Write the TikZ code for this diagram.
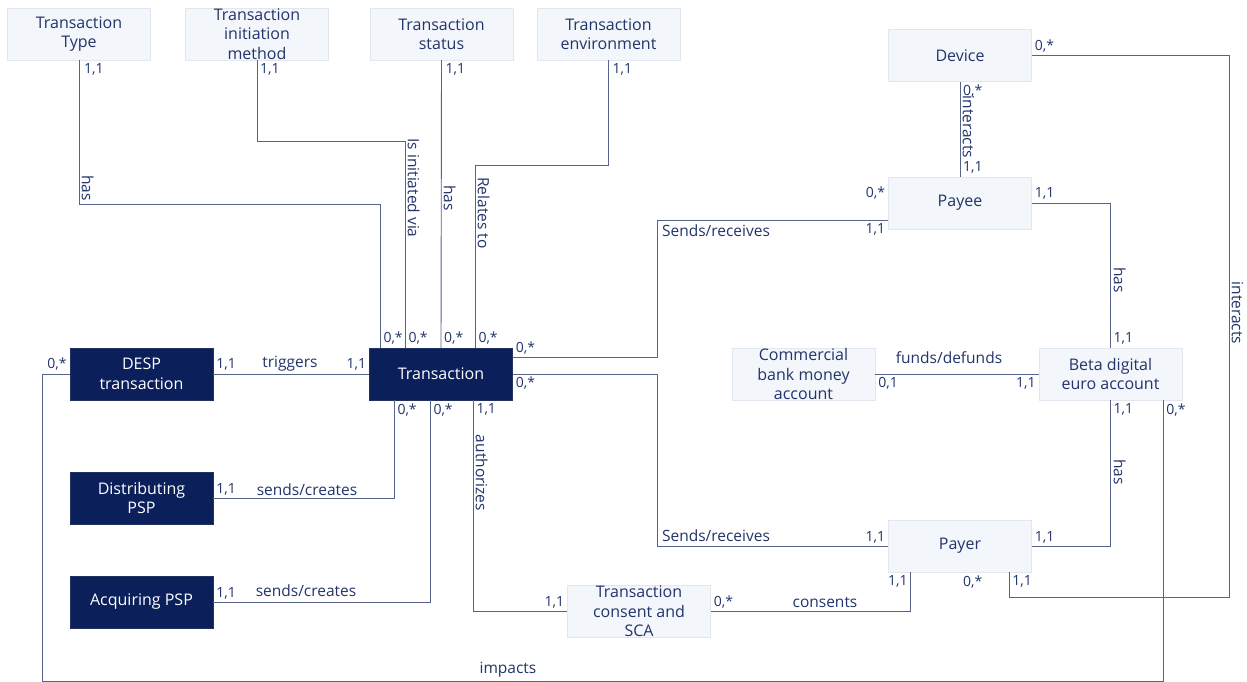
\documentclass[tikz,border=0pt]{standalone}
\usepackage{fontspec}
\setmainfont{Open Sans}
\definecolor{navy}{HTML}{0B1F5B}
\definecolor{pale}{HTML}{F3F6FB}
\definecolor{rim}{HTML}{E2E7EF}
\definecolor{ink}{HTML}{22346A}
\definecolor{wire}{HTML}{56648A}

\begin{document}
\begin{tikzpicture}[x=1pt,y=-1pt,
 entity/.style={draw=rim,fill=pale,text=ink,minimum width=143pt,minimum height=52pt,
   inner sep=0pt,align=center,font=\fontsize{16}{19.5}\selectfont},
 actor/.style={entity,draw=navy!80!gray,fill=navy,text=white},
 link/.style={draw=wire,line width=0.9pt},
 lab/.style={text=ink,inner sep=2.5pt,font=\fontsize{15.5}{18}\selectfont},
 card/.style={text=ink,inner sep=3pt,font=\fontsize{14}{16}\selectfont}]

\useasboundingbox (0,0) rectangle (1247,682);

% transaction attributes
\node[entity] (ttype) at (79,34) {Transaction\\Type};
\node[entity] (tinit) at (257,34) {Transaction\\initiation\\method};
\node[entity] (tstat) at (441.5,34) {Transaction\\status};
\node[entity] (tenv) at (608.5,34) {Transaction\\environment};

% dark boxes
\node[actor] (tr) at (441,374) {Transaction};
\node[actor] (desp) at (141.5,374) {DESP\\transaction};
\node[actor] (dpsp) at (141.5,498) {Distributing\\PSP};
\node[actor] (apsp) at (141.5,602) {Acquiring PSP};

% right hand side
\node[entity] (device) at (960,55.5) {Device};
\node[entity] (payee) at (960,203) {Payee};
\node[entity] (cbm) at (803.5,374) {Commercial\\bank money\\account};
\node[entity] (beta) at (1110.5,374) {Beta digital\\euro account};
\node[entity] (payer) at (960,546) {Payer};
\node[entity] (consent) at (639,611.5) {Transaction\\consent and\\SCA};

\draw 
[link] 
(ttype.south) -- ++(0,144) -| ([xshift=11pt]tr.north west);
\draw 
[link] 
(tinit.south) -- ++(0,81) -| ([xshift=36pt]tr.north west);
\draw 
[link] 
(tstat.south) -- (tr.north);
\draw 
[link] 
(tenv.south) -- ++(0,105) -| ([xshift=106pt]tr.north west);

\draw [link] (desp.east) -- (tr.west);
\draw [link] (dpsp.east) -| ([xshift=25pt]tr.south west);
\draw [link] (apsp.east) -| ([xshift=61pt]tr.south west);
\draw [link] ([xshift=104pt]tr.south west) |- (consent.west);

\draw [link] ([yshift=-10pt]tr.north east) -- ++(145,0) |- ([yshift=-17pt]payee.west);
\draw [link] (tr.east) -- ++(145,0) |- (payer.west);

\draw [link] (device.south) -- (payee.north);
\draw [link] (device.east) -- ++(197.5,0) -- ++(0,541.5) -| ([xshift=-22.5pt]payer.south east);
\draw [link] (payee.east) -| (beta.north);
\draw [link] (cbm.east) -- (beta.west);
\draw [link] (beta.south) |- (payer.east);
\draw [link] ([xshift=22.5pt]payer.south west) |- (consent.east);

\draw [link] (desp.west) -- ++(-27,0) -- ++(0,307) -| ([xshift=-19pt]beta.south east);

% relation names
\node[lab,rotate=-90,anchor=south] (l-type) at (79,188) {has};
\node[lab,rotate=-90,anchor=south] (l-init) at (405,188) {Is initiated via};
\node[lab,rotate=-90,anchor=south] (l-stat) at (441,198) {has};
\node[lab,rotate=-90,anchor=south] (l-env) at (475,213) {Relates to};
\node[lab,rotate=-90,anchor=south] (l-auth) at (473,473) {authorizes};
\node[lab,rotate=-90,anchor=south] (l-dev) at (960,127) {interacts};
\node[lab,rotate=-90,anchor=south] (l-payee) at (1111,280) {has};
\node[lab,rotate=-90,anchor=south] (l-payer) at (1111,472) {has};
\node[lab,rotate=-90,anchor=south] (l-loop) at (1229,313) {interacts};

\node[lab] (l-trig) at (290,364) {triggers};
\node[lab] (l-dist) at (307,490) {sends/creates};
\node[lab] (l-acq) at (306,591) {sends/creates};
\node[lab] (l-up) at (716,231) {Sends/receives};
\node[lab] (l-down) at (716,536) {Sends/receives};
\node[lab] (l-fund) at (949,358) {funds/defunds};
\node[lab] (l-cons) at (825,602) {consents};
\node[lab] (l-imp) at (508,670) {impacts};

% cardinalities
\node[card,anchor=north west] (c1) at ([xshift=2pt]ttype.south) {1,1};
\node[card,anchor=north west] (c2) at (tinit.south) {1,1};
\node[card,anchor=north west] (c3) at ([xshift=1pt]tstat.south) {1,1};
\node[card,anchor=north west] (c4) at ([xshift=1pt]tenv.south) {1,1};
\node[card,anchor=south west] (c5) at ([xshift=11pt]tr.north west) {0,*};
\node[card,anchor=south west] (c6) at ([xshift=36pt]tr.north west) {0,*};
\node[card,anchor=south west] (c7) at (tr.north) {0,*};
\node[card,anchor=south west] (c8) at ([xshift=106pt]tr.north west) {0,*};

\node[card,anchor=south east] (c9) at (desp.west) {0,*};
\node[card,anchor=south west] (c10) at (desp.east) {1,1};
\node[card,anchor=south east] (c11) at (tr.west) {1,1};
\node[card,anchor=south west] (c12) at (dpsp.east) {1,1};
\node[card,anchor=south west] (c13) at (apsp.east) {1,1};
\node[card,anchor=north west] (c14) at ([xshift=25pt]tr.south west) {0,*};
\node[card,anchor=north west] (c15) at ([xshift=61pt]tr.south west) {0,*};
\node[card,anchor=north west] (c16) at ([xshift=104pt]tr.south west) {1,1};
\node[card,anchor=south east] (c17) at (consent.west) {1,1};
\node[card,anchor=south west] (c18) at ([yshift=-10pt]tr.north east) {0,*};
\node[card,anchor=north west] (c19) at (tr.east) {0,*};

\node[card,anchor=south east] (c20) at (payee.west) {0,*};
\node[card,anchor=north east] (c21) at ([yshift=-17pt]payee.west) {1,1};
\node[card,anchor=south east] (c22) at (payer.west) {1,1};
\node[card,anchor=south west] (c23) at (device.east) {0,*};
\node[card,anchor=north west] (c24) at (device.south) {0,*};
\node[card,anchor=south west] (c25) at (payee.north) {1,1};
\node[card,anchor=south west] (c26) at (payee.east) {1,1};
\node[card,anchor=south west] (c27) at (beta.north) {1,1};
\node[card,anchor=north west] (c28) at (cbm.east) {0,1};
\node[card,anchor=north east] (c29) at (beta.west) {1,1};
\node[card,anchor=north west] (c30) at (beta.south) {1,1};
\node[card,anchor=north west] (c31) at ([xshift=-19pt]beta.south east) {0,*};
\node[card,anchor=south west] (c32) at (payer.east) {1,1};
\node[card,anchor=north east] (c33) at ([xshift=22.5pt]payer.south west) {1,1};
\node[card,anchor=north west] (c34) at (payer.south) {0,*};
\node[card,anchor=north west] (c35) at ([xshift=-22.5pt]payer.south east) {1,1};
\node[card,anchor=south west] (c36) at (consent.east) {0,*};

\end{tikzpicture}
\end{document}
